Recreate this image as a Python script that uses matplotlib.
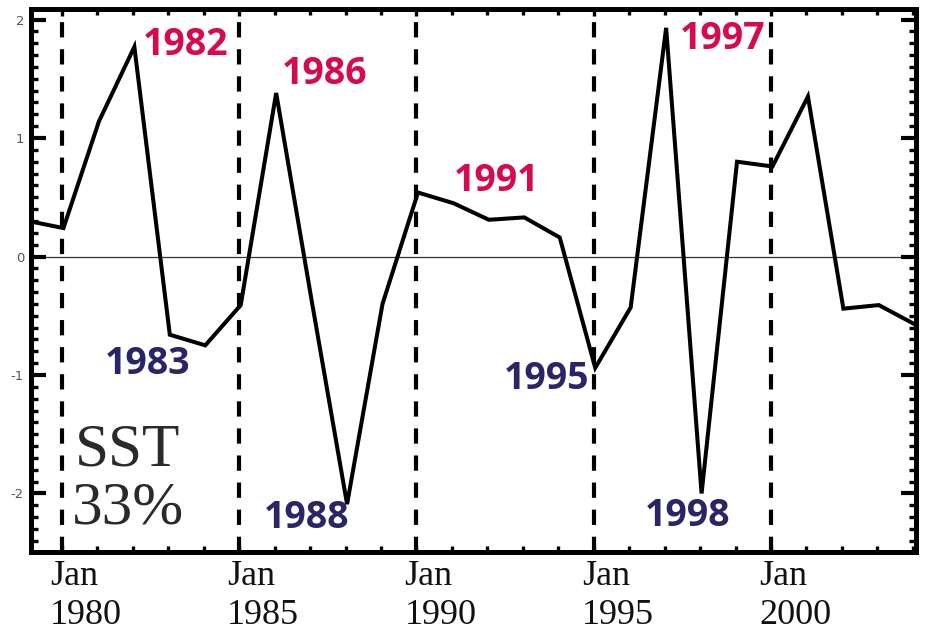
import matplotlib
matplotlib.use("Agg")
import matplotlib.pyplot as plt
import matplotlib.transforms as mtransforms
from matplotlib.ticker import MultipleLocator, FixedLocator
import numpy as np

plt.rcParams["axes.unicode_minus"] = False
plt.rcParams["lines.scale_dashes"] = False

# Annual SST mode amplitude (January values)
years = list(range(1979, 2005))
amplitude = [0.30, 0.24, 1.14, 1.77, -0.66, -0.75, -0.41, 1.38, -0.37, -2.09,
             -0.40, 0.54, 0.45, 0.31, 0.33, 0.16, -0.94, -0.43, 1.93, -2.00,
             0.80, 0.76, 1.35, -0.44, -0.41, -0.57]

# Highlighted warm (red) and cold (blue) years
warm_years = [1982, 1986, 1991, 1997]
cold_years = [1983, 1988, 1995, 1998]
jan_years = [1980, 1985, 1990, 1995, 2000]
y_ticks = [-2, -1, 0, 1, 2]

warm_color = "#d50a4f"
cold_color = "#2b2466"

# label offsets (points) relative to the marked data point
warm_offsets = {1982: (37, 1), 1986: (35, 14), 1991: (31, 16), 1997: (41, -8)}
cold_offsets = {1983: (-16, -21), 1988: (-29, -10), 1995: (-35, -8), 1998: (-10, -16)}

W, H = 932, 636
fig = plt.figure(figsize=(W / 100, H / 100), dpi=100)
ax = fig.add_axes([31 / W, 1 - 552 / H, (916 - 31) / W, (552 - 9) / H])

# values sit in the middle of January
t = np.array(years) + 0.5 / 12
amp = dict(zip(years, amplitude))

for y in jan_years:
    ax.axvline(y, color="black", lw=3.0, dashes=(11, 8.5), zorder=1)
ax.axhline(0, color="#333333", lw=0.9, zorder=1)
ax.plot(t, amplitude, color="black", lw=2.9, solid_joinstyle="miter", zorder=3)

ax.set_xlim(1979.126, 2004.09)
ax.set_ylim(-2.494, 2.089)

for side in ax.spines.values():
    side.set_linewidth(3.6)

ax.yaxis.set_major_locator(FixedLocator(y_ticks))
ax.yaxis.set_minor_locator(MultipleLocator(0.1))
ax.xaxis.set_major_locator(FixedLocator(jan_years))
ax.xaxis.set_minor_locator(MultipleLocator(1))
ax.tick_params(axis="y", which="major", direction="in", length=11, width=3,
               left=True, right=True, labelsize=9.5, labelcolor="#555555", pad=5)
ax.tick_params(axis="y", which="minor", direction="in", length=5, width=2.4,
               left=True, right=True)
ax.tick_params(axis="x", which="major", direction="in", length=5, width=2.4,
               top=True, bottom=True, labelbottom=False)
ax.tick_params(axis="x", which="minor", direction="in", length=4, width=2.4,
               top=True, bottom=True)
ax.set_yticklabels([str(v) for v in y_ticks])

# Jan / year labels under the axis
trans = mtransforms.blended_transform_factory(ax.transData, fig.transFigure)
trans = mtransforms.offset_copy(trans, fig=fig, x=-12, y=0, units="dots")
for y in jan_years:
    ax.text(y, 1 - 585 / H, "Jan", transform=trans, ha="left", va="baseline",
            family="Liberation Serif", fontsize=26, color="#111111", clip_on=False)
    ax.text(y, 1 - 624 / H, str(y), transform=trans, ha="left", va="baseline",
            family="Liberation Serif", fontsize=26, color="#111111", clip_on=False)

label_font = dict(family="Open Sans", fontweight="bold", fontsize=27)
for y in warm_years:
    ax.annotate(str(y), xy=(y + 0.5 / 12, amp[y]), xytext=warm_offsets[y],
                textcoords="offset points", ha="center", va="center",
                color=warm_color, zorder=4, **label_font)
for y in cold_years:
    ax.annotate(str(y), xy=(y + 0.5 / 12, amp[y]), xytext=cold_offsets[y],
                textcoords="offset points", ha="center", va="center",
                color=cold_color, zorder=4, **label_font)

fig.text(128 / W, 1 - 451 / H, "SST", ha="center", va="center",
         family="Liberation Serif", fontsize=44, color="#2a2a2a")
fig.text(128 / W, 1 - 509 / H, "33%", ha="center", va="center",
         family="Liberation Serif", fontsize=44, color="#2a2a2a")

fig.savefig("out.png", dpi=100)
